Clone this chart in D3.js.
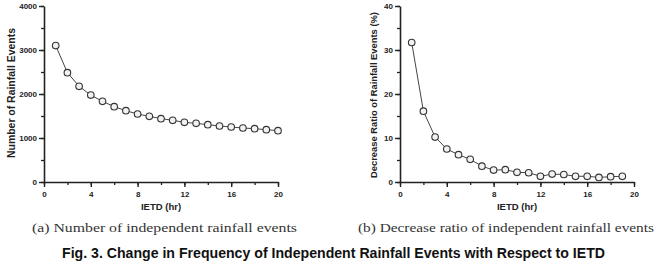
<!DOCTYPE html>
<html>
<head>
<meta charset="utf-8">
<script src="https://cdn.jsdelivr.net/npm/d3@7"></script>
<style>
  body { margin: 0; background: #fff; }
  svg { display: block; }
</style>
</head>
<body>
<div id="chart"></div>
<script>
// IETD hours and values
const ietdA = d3.range(1, 21);
const eventsCount = [3100, 2485, 2175, 1975, 1833, 1712, 1621, 1545, 1492, 1440,
    1401, 1356, 1333, 1303, 1273, 1250, 1227, 1212, 1189, 1167];
const ietdB = d3.range(1, 20);
const decreaseRatio = [31.7, 16.1, 10.2, 7.5, 6.2, 5.15, 3.6, 2.7, 2.8, 2.2,
    2.1, 1.3, 1.8, 1.7, 1.3, 1.3, 1.05, 1.2, 1.3];
const xTicks = [0, 4, 8, 12, 16, 20];
const yTicksA = [0, 1000, 2000, 3000, 4000];
const yTicksB = [0, 10, 20, 30, 40];

function init() {
    const W = 655, H = 268;
    const svg = d3.select("#chart").append("svg")
        .attr("width", W).attr("height", H);

    const top = 6, bottom = 182;

    function panel(cfg) {
        const x = d3.scaleLinear().domain([0, 20]).range([cfg.left, cfg.right]);
        const y = d3.scaleLinear().domain(cfg.yDomain).range([bottom, top]);
        const g = svg.append("g");

        // minor ticks
        const yMinor = d3.range(cfg.yDomain[0], cfg.yDomain[1] + 1e-9, cfg.yDomain[1] / 8);
        g.append("g")
            .attr("transform", `translate(${cfg.left},0)`)
            .call(d3.axisLeft(y).tickValues(yMinor).tickSize(3).tickFormat(""))
            .call(a => a.select(".domain").remove())
            .selectAll("line").attr("stroke", "#222").attr("stroke-width", 1.3);
        g.append("g")
            .attr("transform", `translate(0,${bottom})`)
            .call(d3.axisBottom(x).tickValues(d3.range(0, 21, 2)).tickSize(3).tickFormat(""))
            .call(a => a.select(".domain").remove())
            .selectAll("line").attr("stroke", "#222").attr("stroke-width", 1.3);

        // major axes
        const ya = g.append("g")
            .attr("transform", `translate(${cfg.left},0)`)
            .call(d3.axisLeft(y).tickValues(cfg.yTicks).tickFormat(d3.format("d"))
                .tickSize(5).tickPadding(2).tickSizeOuter(0));
        const xa = g.append("g")
            .attr("transform", `translate(0,${bottom})`)
            .call(d3.axisBottom(x).tickValues(xTicks).tickSize(5).tickPadding(4).tickSizeOuter(0));
        [ya, xa].forEach(a => {
            a.select(".domain").attr("stroke", "#222").attr("stroke-width", 1.6);
            a.selectAll(".tick line").attr("stroke", "#222").attr("stroke-width", 1.4);
            a.selectAll("text")
                .style("font-family", "Liberation Sans, Arial, sans-serif")
                .style("font-size", "8px")
                .style("font-weight", "bold")
                .attr("fill", "#222");
        });

        // line + open circles
        const pts = cfg.xs.map((v, i) => [v, cfg.ys[i]]);
        g.append("path")
            .datum(pts)
            .attr("fill", "none")
            .attr("stroke", "#444")
            .attr("stroke-width", 1)
            .attr("d", d3.line().x(d => x(d[0])).y(d => y(d[1])));
        g.selectAll("circle")
            .data(pts)
            .enter()
            .append("circle")
            .attr("cx", d => x(d[0]))
            .attr("cy", d => y(d[1]))
            .attr("r", 3.3)
            .attr("fill", "#f2f2f2")
            .attr("stroke", "#333")
            .attr("stroke-width", 1.1);

        // axis titles
        g.append("text")
            .attr("x", (cfg.left + cfg.right) / 2)
            .attr("y", 210)
            .attr("text-anchor", "middle")
            .style("font-family", "Liberation Sans, Arial, sans-serif")
            .style("font-size", "9.5px")
            .style("font-weight", "bold")
            .attr("fill", "#222")
            .text("IETD (hr)");
        g.append("text")
            .attr("transform", `translate(${cfg.yLabelX},${cfg.yLabelY}) rotate(-90)`)
            .attr("text-anchor", "middle")
            .attr("textLength", cfg.yLabelLen)
            .attr("lengthAdjust", "spacingAndGlyphs")
            .style("font-family", "Liberation Sans, Arial, sans-serif")
            .style("font-size", cfg.yLabelSize)
            .style("font-weight", "bold")
            .attr("fill", "#222")
            .text(cfg.yLabel);

        // caption
        svg.append("text")
            .attr("x", cfg.capX)
            .attr("y", 232)
            .attr("textLength", cfg.capLen)
            .attr("lengthAdjust", "spacingAndGlyphs")
            .style("font-family", "Liberation Serif, DejaVu Serif, serif")
            .style("font-size", "13px")
            .attr("fill", "#333")
            .text(cfg.caption);
    }

    panel({
        left: 44, right: 278, yDomain: [0, 4000], yTicks: yTicksA,
        xs: ietdA, ys: eventsCount,
        yLabel: "Number of Rainfall Events", yLabelX: 15, yLabelY: 93, yLabelLen: 130,
        yLabelSize: "10.5px",
        caption: "(a) Number of independent rainfall events", capX: 32, capLen: 265
    });
    panel({
        left: 400, right: 634, yDomain: [0, 40], yTicks: yTicksB,
        xs: ietdB, ys: decreaseRatio,
        yLabel: "Decrease Ratio of Rainfall Events (%)", yLabelX: 376.5, yLabelY: 95, yLabelLen: 166,
        yLabelSize: "9.4px",
        caption: "(b) Decrease ratio of independent rainfall events", capX: 358, capLen: 296
    });

    svg.append("text")
        .attr("x", 62)
        .attr("y", 258)
        .attr("textLength", 543)
        .attr("lengthAdjust", "spacingAndGlyphs")
        .style("font-family", "Liberation Sans, Arial, sans-serif")
        .style("font-size", "14px")
        .style("font-weight", "bold")
        .attr("fill", "#111")
        .text("Fig. 3. Change in Frequency of Independent Rainfall Events with Respect to IETD");
}

window.onload = init;
</script>
</body>
</html>
